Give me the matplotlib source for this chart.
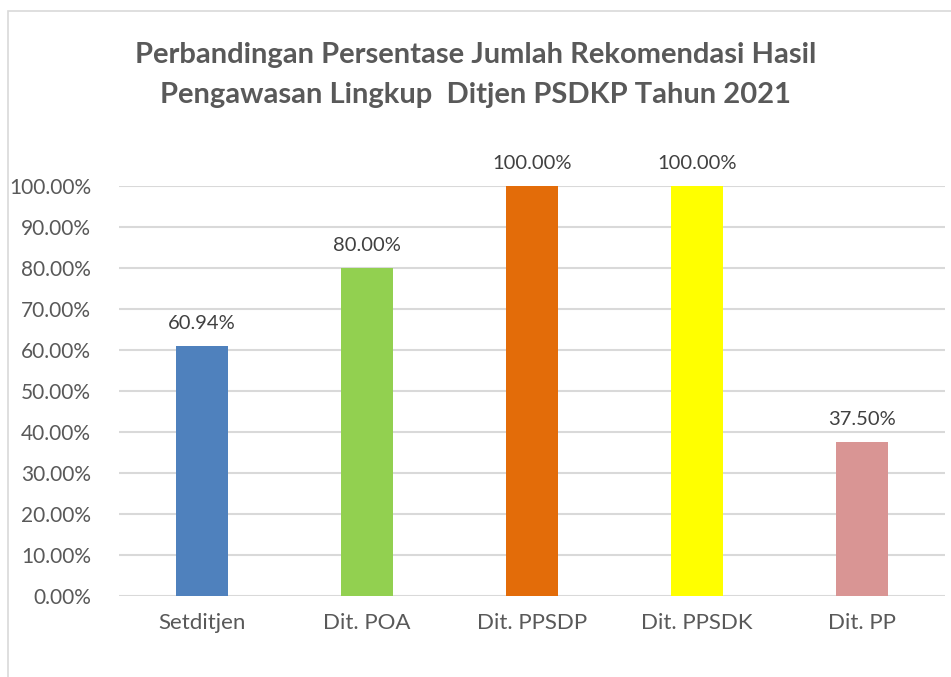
import matplotlib.pyplot as plt
from matplotlib.patches import Rectangle
from matplotlib.ticker import FuncFormatter

categories = ["Setditjen", "Dit. POA", "Dit. PPSDP", "Dit. PPSDK", "Dit. PP"]
values = [0.6094, 0.80, 1.00, 1.00, 0.375]
colors = ["#4F81BD", "#92D050", "#E36C09", "#FFFF00", "#D99594"]

plt.rcParams['font.family'] = ['Lato', 'DejaVu Sans']

fig = plt.figure(figsize=(9.51, 6.77), dpi=100)
ax = fig.add_axes([119 / 951, 1 - 596 / 677, 826 / 951, 410 / 677])

# outer chart frame (partly cropped in the original)
fig.patches.append(Rectangle((8 / 951, -0.1), 1.2, (677 - 11) / 677 + 0.1,
                             transform=fig.transFigure, fill=False,
                             edgecolor="#D9D9D9", linewidth=1.2))

x = range(len(categories))
bars = ax.bar(x, values, width=0.315, color=colors, zorder=3)

for b, v in zip(bars, values):
    ax.text(b.get_x() + b.get_width() / 2, v + 0.035, f"{v * 100:.2f}%",
            ha='center', va='bottom', fontsize=14.5, color="#404040", clip_on=False)

ax.set_xlim(-0.5, len(categories) - 0.5)
ax.set_ylim(0, 1.0)
ax.set_yticks([i / 10 for i in range(11)])
ax.yaxis.set_major_formatter(FuncFormatter(lambda v, p: f"{v * 100:.2f}%"))
ax.set_xticks(list(x))
ax.set_xticklabels(categories)
ax.tick_params(axis='both', length=0, colors="#595959")
ax.tick_params(axis='y', pad=20, labelsize=15)
ax.tick_params(axis='x', pad=12, labelsize=16)
ax.grid(axis='y', color="#D9D9D9", linewidth=1.5, zorder=0)
for s in ax.spines.values():
    s.set_visible(False)

fig.text(0.5, 1 - 55 / 677, "Perbandingan Persentase Jumlah Rekomendasi Hasil",
         ha='center', va='center', fontsize=21, fontweight='bold', color="#595959")
fig.text(0.5, 1 - 95 / 677, "Pengawasan Lingkup  Ditjen PSDKP Tahun 2021",
         ha='center', va='center', fontsize=21, fontweight='bold', color="#595959")

fig.savefig("out.png", dpi=100)
